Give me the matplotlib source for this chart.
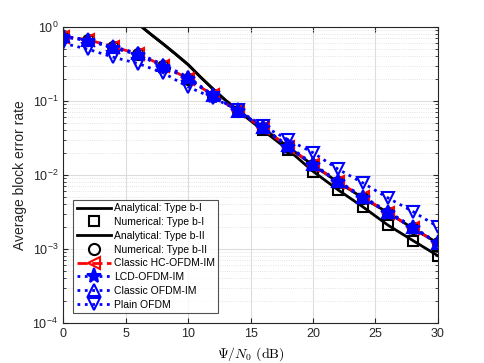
import numpy as np
import matplotlib
matplotlib.use("Agg")
import matplotlib.pyplot as plt

plt.rcParams['font.family'] = ['Liberation Sans', 'DejaVu Sans']
plt.rcParams['mathtext.fontset'] = 'cm'

# SNR grid (dB)
snr = [0, 2, 4, 6, 8, 10, 12, 14, 16, 18, 20, 22, 24, 26, 28, 30]
snrAnalytic = [5, 6, 7, 8, 9, 10, 11, 12, 13, 14, 15, 16, 18, 20, 22, 24, 26, 28, 30]

# analytical curves (start above 1, clipped by the axis)
anaB1 = [1.4, 1.1, 0.80, 0.59, 0.43, 0.31, 0.21, 0.145, 0.102, 0.074, 0.054, 0.040,
         0.022, 0.0112, 0.0063, 0.0037, 0.0021, 0.0013, 0.00081]
anaB2 = [1.4, 1.1, 0.80, 0.59, 0.43, 0.31, 0.21, 0.145, 0.102, 0.075, 0.056, 0.043,
         0.024, 0.0136, 0.0080, 0.0049, 0.0031, 0.0019, 0.0012]

# numerical results
numB1 = [np.nan] * 8 + [0.040, 0.022, 0.0111, 0.0063, 0.0037, 0.0021, 0.0013, 0.00081]
numB2 = [0.73, 0.66, 0.53, 0.43, 0.30, 0.20, 0.118, 0.073, 0.043, 0.024, 0.0136, 0.0080, 0.0049, 0.0031, 0.0019, 0.0012]
hcOfdmIm = [0.74, 0.67, 0.54, 0.43, 0.30, 0.20, 0.119, 0.073, 0.043, 0.024, 0.0137, 0.0081, 0.0050, 0.0031, 0.0019, 0.0012]
lcdOfdmIm = [0.73, 0.65, 0.52, 0.42, 0.29, 0.20, 0.117, 0.073, 0.043, 0.024, 0.0136, 0.0080, 0.0049, 0.0031, 0.0019, 0.0012]
classicOfdmIm = [0.75, 0.67, 0.54, 0.44, 0.31, 0.21, 0.12, 0.074, 0.044, 0.025, 0.0140, 0.0083, 0.0051, 0.0032, 0.0020, 0.0012]
plainOfdm = [0.60, 0.50, 0.39, 0.32, 0.24, 0.155, 0.11, 0.075, 0.046, 0.030, 0.020, 0.012, 0.0078, 0.0049, 0.0032, 0.0020]

fig = plt.figure(figsize=(4.85, 3.63), dpi=100)
ax = fig.add_axes([0.130, 0.110, 0.773, 0.816])

ms = 8
ax.semilogy(snrAnalytic, anaB1, '-', color='black', lw=2, label='Analytical: Type b-I')
ax.semilogy(snr, numB1, 's', color='black', mfc='none', mew=1.5, ms=ms - 1, label='Numerical: Type b-I')
ax.semilogy(snrAnalytic, anaB2, '-', color='black', lw=2, label='Analytical: Type b-II')
ax.semilogy(snr, numB2, 'o', color='black', mfc='none', mew=1.5, ms=ms, label='Numerical: Type b-II')
ax.semilogy(snr, hcOfdmIm, '--', color='red', marker='<', mfc='none', mew=1.5, ms=ms, lw=2,
            label='Classic HC-OFDM-IM')
ax.semilogy(snr, lcdOfdmIm, ':', color='blue', marker='*', mfc='blue', mew=1.5, ms=ms + 3, lw=2,
            label='LCD-OFDM-IM')
ax.semilogy(snr, classicOfdmIm, ':', color='blue', marker='^', mfc='none', mew=1.5, ms=ms, lw=2,
            label='Classic OFDM-IM')
ax.semilogy(snr, plainOfdm, ':', color='blue', marker='v', mfc='none', mew=1.5, ms=ms, lw=2,
            label='Plain OFDM')

ax.set_xlim(0, 30)
ax.set_ylim(1e-4, 1)
ax.set_xticks([0, 5, 10, 15, 20, 25, 30])
ax.grid(True, which='major', color='#dcdcdc', lw=0.8)
ax.grid(True, which='minor', color='#dcdcdc', lw=0.6, ls=':')
ax.tick_params(which='both', direction='in', top=True, right=True, labelsize=9, colors='#262626')
for s in ax.spines.values():
    s.set_color('#262626')
    s.set_linewidth(0.8)

ax.set_xlabel(r'$\Psi/N_0\ \mathrm{(dB)}$', fontsize=10)
ax.set_ylabel('Average block error rate', fontsize=10, color='#262626')

leg = ax.legend(loc='lower left', fontsize=7.5, handlelength=3.3, handletextpad=0.3,
                borderpad=0.3, borderaxespad=1.0, labelspacing=0.36,
                frameon=True, fancybox=False, edgecolor='#262626')
leg.get_frame().set_linewidth(0.8)

fig.savefig('out.png', dpi=100)
